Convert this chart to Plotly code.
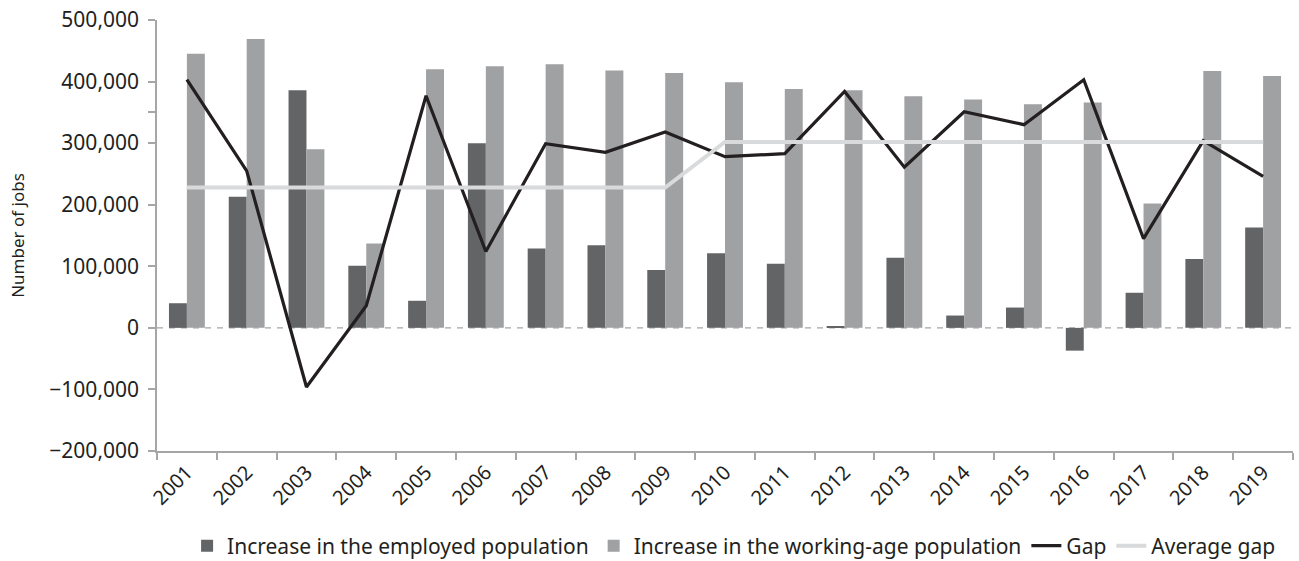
import plotly.graph_objects as go

years = [str(y) for y in range(2001, 2020)]
employed = [40000, 213000, 386000, 101000, 44000, 300000, 129000, 134000, 94000, 121000,
            104000, 1500, 114000, 20000, 33000, -37000, 57000, 112000, 163000]
working_age = [445000, 469000, 290000, 137000, 420000, 425000, 428000, 418000, 414000, 399000,
               388000, 386000, 376000, 371000, 363000, 366000, 202000, 417000, 409000]
gap = [403000, 255000, -96000, 36000, 377000, 124000, 299000, 285000, 318000, 278000,
       283000, 384000, 261000, 351000, 330000, 403000, 145000, 304000, 246000]
avg_gap = [228000] * 9 + [302000] * 10

FONT = "Noto Sans"
TXT = "#231f20"
AX = "#a6a6a6"

W, H = 1299, 561

fig = go.Figure()
fig.add_trace(go.Bar(x=years, y=employed, name="Increase in the employed population",
                     marker_color="#636466", marker_line_width=0))
fig.add_trace(go.Bar(x=years, y=working_age, name="Increase in the working-age population",
                     marker_color="#a0a1a3", marker_line_width=0))
fig.add_trace(go.Scatter(x=years, y=gap, name="Gap", mode="lines",
                         line=dict(color="#231f20", width=3.2)))
fig.add_trace(go.Scatter(x=years, y=avg_gap, name="Average gap", mode="lines",
                         line=dict(color="#d9dadb", width=4)))

fig.add_hline(y=0, line=dict(color=AX, width=1.2, dash="6px,6px"), layer="below")

fig.update_layout(
    width=W, height=H,
    margin=dict(l=157, r=6, t=20, b=110, autoexpand=False),
    plot_bgcolor="white", paper_bgcolor="white",
    font=dict(family=FONT, size=20, color=TXT),
    barmode="group", bargap=0.4, bargroupgap=0,
    legend=dict(orientation="h", x=0.508, xanchor="center", yref="container",
                y=1 - 546 / H, yanchor="middle",
                font=dict(size=21), itemwidth=30, traceorder="normal"),
    showlegend=True,
)
fig.update_xaxes(showline=True, linecolor=AX, linewidth=1.5, ticks="outside",
                 tickson="boundaries", ticklen=7, tickcolor=AX, tickwidth=1.5,
                 tickangle=-45, showgrid=False, tickfont=dict(size=20), automargin=False)
fig.update_yaxes(range=[-200000, 500000], dtick=100000, tickformat=",",
                 showline=True, linecolor=AX, linewidth=1.5, ticks="outside",
                 ticklen=7, tickcolor=AX, tickwidth=1.5, showgrid=False, zeroline=False,
                 ticklabelstandoff=5, ticklabeloverflow="allow",
                 minor=dict(tickmode="array", tickvals=[350000], ticks="outside",
                            ticklen=7, tickcolor=AX, tickwidth=1.5, showgrid=False),
                 title=dict(text="Number of jobs", font=dict(size=17), standoff=20),
                 tickfont=dict(size=21), automargin=False)

fig.write_html("out.html", config={"displayModeBar": False},
               post_script="document.body.style.margin='0px';document.body.style.overflow='hidden';")
